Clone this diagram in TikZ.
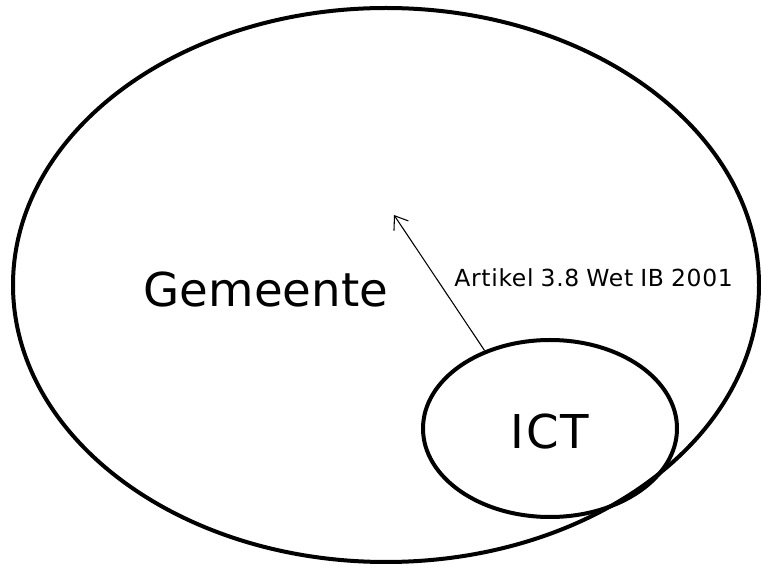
\documentclass[tikz,border=0pt]{standalone}
\usepackage{fontspec}
\setmainfont{DejaVu Sans}
\usetikzlibrary{arrows.meta,shapes.geometric}
\tikzset{
  kring/.style={draw, ellipse, line width=3pt, inner sep=0pt},
  groot/.style={font=\fontsize{35}{42}\selectfont, anchor=base, inner sep=0pt},
  klein/.style={font={\fontsize{17.6}{21}\selectfont\addfontfeature{LetterSpace=3}\spaceskip=0.3em\relax}, anchor=base west, inner sep=0pt}
}

\begin{document}
\begin{tikzpicture}[x=0.75pt, y=-0.75pt]
			%%%%% START %%%%%
			
			\useasboundingbox (0, 0) rectangle (761, 566);
			
			\node[kring, minimum width=559.5pt, minimum height=415.5pt] (gemeente) at (386, 285) {};
			\node[kring, minimum width=190.5pt, minimum height=132.75pt] (ict) at (550, 428.5) {};
			
			\node[groot] (gemtekst) at (266, 307) {Gemeente};
			\node[groot] (icttekst) at (550, 449) {\addfontfeature{LetterSpace=4}ICT};
			
			\coordinate (pijlpunt) at (394, 215);
			\draw[line width=0.8pt, -{Straight Barb[length=9pt, width=13pt]}] (ict.130) -- (pijlpunt);
			
			\node[klein] (artikel) at (454, 287) {Artikel 3.8 Wet IB 2001};
			
			%%%%% END %%%%%
\end{tikzpicture}
\end{document}
